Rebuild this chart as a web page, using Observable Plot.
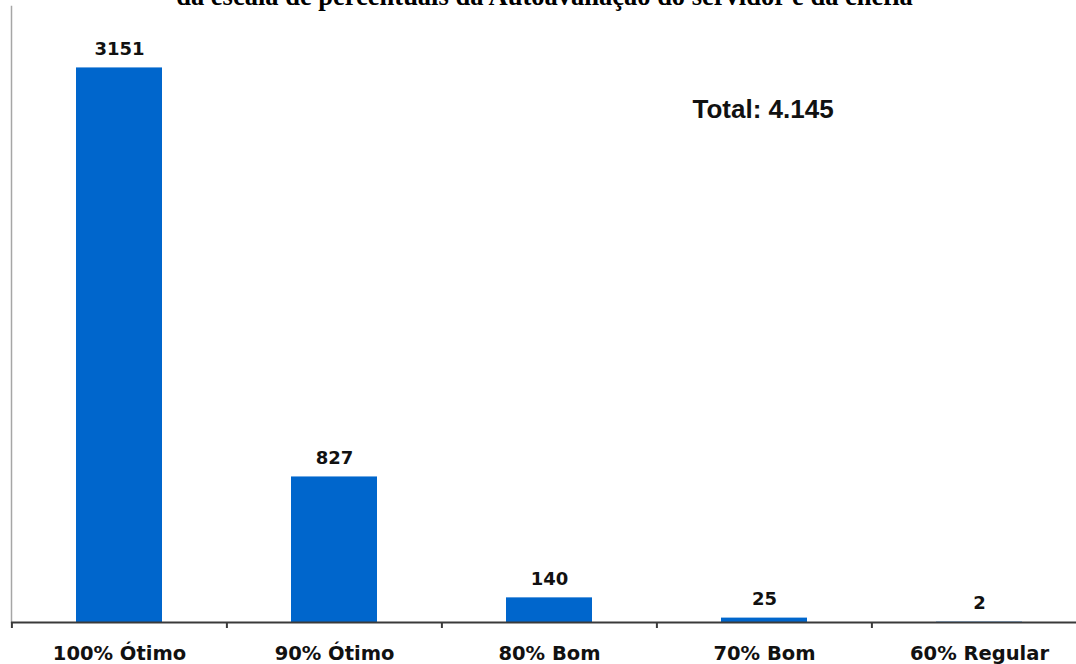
<!DOCTYPE html>
<html>
<head>
<meta charset="utf-8">
<script src="https://cdn.jsdelivr.net/npm/d3@7"></script>
<script src="https://cdn.jsdelivr.net/npm/@observablehq/plot@0.6"></script>
<style>
  html, body { margin: 0; padding: 0; background: #fff; overflow: hidden; }
  #chart svg { display: block; overflow: hidden; }
</style>
</head>
<body>
<div id="chart"></div>
<script>
const titleText = "da escala de percentuais da Autoavaliação do servidor e da chefia";
const totalLabel = "Total: 4.145";
const categories = ["100% Ótimo", "90% Ótimo", "80% Bom", "70% Bom", "60% Regular"];
const counts = [3151, 827, 140, 25, 2];

const data = categories.map((c, i) => ({category: c, count: counts[i]}));

const W = 1076, H = 664;
const mL = 11, mT = 6, mB = 42;
const xRange = [11, 1087];
const step = (xRange[1] - xRange[0]) / categories.length;

const chart = Plot.plot({
  width: W,
  height: H,
  marginLeft: mL,
  marginRight: 0,
  marginTop: mT,
  marginBottom: mB,
  style: {background: "#fff", overflow: "hidden"},
  x: {domain: categories, range: xRange, paddingInner: 0.6, paddingOuter: 0.3, axis: null},
  y: {domain: [0, 3500], axis: null},
  marks: [
    Plot.frame({anchor: "left", stroke: "#a6a6a6", strokeWidth: 1.5}),
    Plot.barY(data, {x: "category", y: "count", fill: "#0066cc"}),
    Plot.ruleY([0], {stroke: "#3a3a3a", strokeWidth: 2}),
    Plot.axisX({ticks: categories, tickSize: 6, text: null, label: null, dx: -step / 2, stroke: "#3a3a3a", strokeWidth: 2}),
    Plot.text(data, {x: "category", y: "count", text: d => String(d.count), dy: -13, lineAnchor: "bottom",
      fontFamily: "DejaVu Sans", fontWeight: "bold", fontSize: 18, fill: "#111"}),
    Plot.text(categories, {x: d => d, frameAnchor: "bottom", dy: 37, lineAnchor: "bottom",
      fontFamily: "DejaVu Sans", fontWeight: "bold", fontSize: 19.5, fill: "#111"}),
    Plot.text([totalLabel], {frameAnchor: "top-left", dx: 681, dy: 111, lineAnchor: "bottom", textAnchor: "start",
      fontFamily: "Liberation Sans", fontWeight: "bold", fontSize: 26, fill: "#111"}),
    Plot.text([titleText], {frameAnchor: "top-left", dx: 533, dy: -2, lineAnchor: "bottom", textAnchor: "middle",
      fontFamily: "Liberation Serif", fontWeight: "bold", fontSize: 26.5, fill: "#000"})
  ]
});
document.getElementById("chart").appendChild(chart);
</script>
</body>
</html>
